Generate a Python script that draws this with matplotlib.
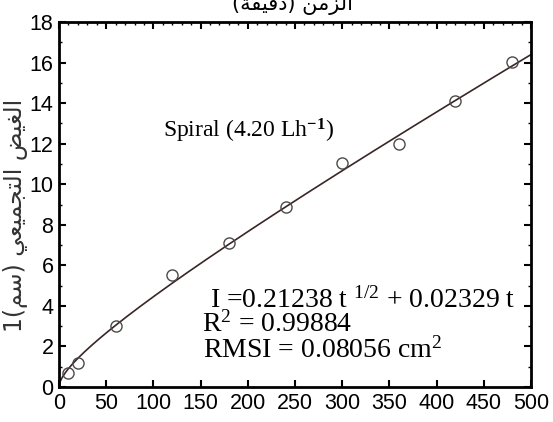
import numpy as np
import matplotlib.pyplot as plt
from matplotlib.ticker import MultipleLocator
from matplotlib import font_manager

# measured infiltration (cm) vs time (min)
time_min = [10, 20, 60, 120, 180, 240, 300, 360, 420, 480]
infil_cm = [0.68, 1.17, 3.0, 5.5, 7.08, 8.9, 11.05, 12.0, 14.1, 16.03]

# fitted model I = a t^1/2 + b t
a_coef = 0.21238
b_coef = 0.02329

x_ticks = [0, 50, 100, 150, 200, 250, 300, 350, 400, 450, 500]
y_ticks = [0, 2, 4, 6, 8, 10, 12, 14, 16, 18]

# Arabic strings pre-shaped (presentation forms, visual order) since matplotlib has no bidi
title_txt = "(\uFE94\uFED8\uFEF4\uFED7\uFEA9) \uFEE6\uFEE3\uFEB0\uFEDF\uFE8D"
ylabel_txt = ("1(\uFEE2\uFEB3) "
              "\uFEF2\uFECC\uFEF4\uFEE4\uFEA0\uFE98\uFEDF\uFE8D "
              "\uFEBE\uFEF4\uFED0\uFEDF\uFE8D")

names = {f.name for f in font_manager.fontManager.ttflist}
tick_font = "Liberation Sans Narrow" if "Liberation Sans Narrow" in names else "Liberation Sans"
tick_size = 17 if tick_font == "Liberation Sans Narrow" else 15.5

plt.rcParams["mathtext.fontset"] = "custom"
plt.rcParams["mathtext.rm"] = "Liberation Serif"
plt.rcParams["mathtext.it"] = "Liberation Serif:italic"
plt.rcParams["mathtext.bf"] = "Liberation Serif:bold"

fig = plt.figure(figsize=(5.53, 4.22), dpi=100)
ax = fig.add_axes([59 / 553, 1 - 387 / 422, 472 / 553, 365 / 422])

t = np.linspace(0, 500, 400)
ax.plot(t, a_coef * np.sqrt(t) + b_coef * t, color="#3b2626", lw=1.2, zorder=2)
ax.plot(time_min, infil_cm, ls="none", marker="o", ms=8, mfc="none",
        mec="#4a4a4a", mew=1.0, zorder=3)

ax.set_xlim(0, 500)
ax.set_ylim(0, 18)
ax.set_xticks(x_ticks)
ax.set_yticks(y_ticks)
ax.xaxis.set_minor_locator(MultipleLocator(10))
ax.yaxis.set_minor_locator(MultipleLocator(1))
ax.tick_params(which="major", direction="in", length=5, width=1.5,
               top=True, right=True, labelsize=tick_size, pad=4)
ax.tick_params(which="minor", direction="in", length=2.5, width=1.0,
               top=True, bottom=False, left=True, right=True)
for lab in ax.get_xticklabels() + ax.get_yticklabels():
    lab.set_fontfamily(tick_font)
for sp in ax.spines.values():
    sp.set_linewidth(2)

serif = "Liberation Serif"
ax.text(110, 12.28, r"Spiral (4.20 Lh$^{\mathbf{-1}}$)", fontsize=17,
        family=serif, ha="left", va="baseline")
ax.text(160, 3.9, r"I =0.21238 t $^{1/2}$ + 0.02329 t", fontsize=20,
        family=serif, ha="left", va="baseline")
ax.text(151, 2.73, r"R$^{2}$ = 0.99884", fontsize=20,
        family=serif, ha="left", va="baseline")
ax.text(152.5, 1.43, r"RMSI = 0.08056 cm$^{2}$", fontsize=20,
        family=serif, ha="left", va="baseline")

fig.text(292 / 553, 1 - 10 / 422, title_txt, fontsize=15,
         family=["DejaVu Sans"], ha="center", va="baseline")
fig.text(16 / 553, 1 - 215 / 422, ylabel_txt, fontsize=17, rotation=90,
         family=["DejaVu Sans"], ha="center", va="center", color="#333333")

fig.savefig("out.png", dpi=100)
